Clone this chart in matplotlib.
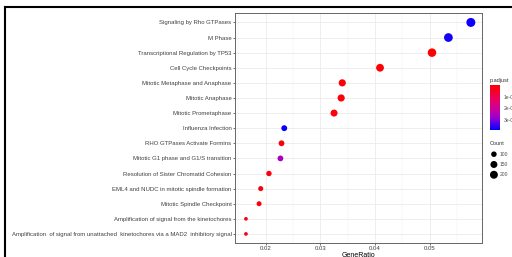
import numpy as np
import matplotlib
matplotlib.use("Agg")
import matplotlib.pyplot as plt
from matplotlib.colors import LinearSegmentedColormap, Normalize
from matplotlib.lines import Line2D

plt.rcParams['font.family'] = ['Liberation Sans', 'DejaVu Sans']

# pathway terms, top to bottom
terms = [
    "Signaling by Rho GTPases",
    "M Phase",
    "Transcriptional Regulation by TP53",
    "Cell Cycle Checkpoints",
    "Mitotic Metaphase and Anaphase",
    "Mitotic Anaphase",
    "Mitotic Prometaphase",
    "Influenza Infection",
    "RHO GTPases Activate Formins",
    "Mitotic G1 phase and G1/S transition",
    "Resolution of Sister Chromatid Cohesion",
    "EML4 and NUDC in mitotic spindle formation",
    "Mitotic Spindle Checkpoint",
    "Amplification of signal from the kinetochores",
    "Amplification  of signal from unattached  kinetochores via a MAD2  inhibitory signal",
]
gene_ratio = [0.0575, 0.0534, 0.0504, 0.0409, 0.0340, 0.0338, 0.0325,
              0.0234, 0.0229, 0.0227, 0.0206, 0.0191, 0.0188, 0.0164, 0.0164]
counts = [270, 251, 237, 192, 160, 159, 153, 110, 108, 107, 97, 90, 88, 77, 77]
p_adjust = [3.75e-5, 3.7e-5, 1e-8, 5e-7, 1e-6, 1.2e-6, 1.5e-6,
            3.8e-5, 1e-6, 2.6e-5, 1.5e-6, 2e-6, 1.5e-6, 3e-6, 3e-6]

size_legend = [100, 150, 200]
cbar_ticks = [1e-5, 2e-5, 3e-5]
cbar_labels = ["1e-05", "2e-05", "3e-05"]

cmap = LinearSegmentedColormap.from_list(
    "rb", [(0, "#FF0000"), (0.35, "#E8006A"), (0.55, "#C8009E"),
           (0.75, "#9300D8"), (1, "#0000FF")])
norm = Normalize(vmin=0, vmax=3.85e-5)

cmin, cmax = min(counts), max(counts)


def marker_area(c):
    # ggplot-like area scale: diameter 3.7px .. 9px
    t = (np.asarray(c, dtype=float) - cmin) / (cmax - cmin)
    d_px = 3.7 + np.sqrt(np.clip(t, 0, 1)) * 5.3
    return (d_px * 72 / 100) ** 2


fig = plt.figure(figsize=(5.12, 2.57), dpi=100)
ax = fig.add_axes([0.459, 0.0545, 0.482, 0.8935])

ypos = np.arange(len(terms))[::-1] + 1
ax.scatter(gene_ratio, ypos, s=marker_area(counts), c=p_adjust, cmap=cmap,
           norm=norm, linewidths=0, zorder=3)

ax.set_ylim(0.4, len(terms) + 0.6)
ax.set_xlim(0.0144, 0.0595)
ax.set_yticks(ypos)
ax.set_yticklabels(terms)
ax.set_xticks([0.02, 0.03, 0.04, 0.05])
ax.set_xticklabels(["0.02", "0.03", "0.04", "0.05"])
ax.set_xticks([0.015, 0.025, 0.035, 0.045, 0.055], minor=True)
ax.tick_params(axis='both', which='major', labelsize=4.3, colors='#333333',
               length=1.5, width=0.5, pad=1, labelcolor='#404040')
ax.tick_params(axis='x', which='minor', length=0)
ax.grid(True, which='major', color='#EBEBEB', lw=0.6, zorder=0)
ax.grid(True, which='minor', axis='x', color='#F2F2F2', lw=0.35, zorder=0)
for sp in ax.spines.values():
    sp.set_color('#666666')
    sp.set_linewidth(0.7)
ax.set_xlabel("GeneRatio", fontsize=5, labelpad=0.5)

# colour bar legend
fig.text(0.957, 0.686, "p.adjust", fontsize=4, color='#333333', va='center')
cax = fig.add_axes([0.958, 0.494, 0.018, 0.175])
grad = np.linspace(0, 3.85e-5, 100).reshape(-1, 1)
cax.imshow(grad, aspect='auto', cmap=cmap, norm=norm,
           extent=[0, 1, 3.85e-5, 0])
cax.set_ylim(3.85e-5, 0)
cax.set_xticks([])
cax.yaxis.tick_right()
cax.set_yticks(cbar_ticks)
cax.set_yticklabels(cbar_labels)
cax.tick_params(axis='y', labelsize=3.6, length=1.5, width=0.4,
                colors='white', labelcolor='#4D4D4D', pad=1.5)
for sp in cax.spines.values():
    sp.set_visible(False)

# count legend
fig.text(0.957, 0.44, "Count", fontsize=4, color='#333333', va='center')
lax = fig.add_axes([0.958, 0.30, 0.04, 0.12])
lax.scatter([0.5] * len(size_legend), [2, 1, 0], s=marker_area(size_legend),
            color='black', linewidths=0)
for yy, lab in zip([2, 1, 0], size_legend):
    lax.text(1.3, yy, str(lab), fontsize=3.6, color='#4D4D4D', va='center')
lax.set_xlim(0, 3)
lax.set_ylim(-0.5, 2.5)
lax.axis('off')

# outer frame of the screenshot
fig.add_artist(Line2D([0.0098, 1.0], [0.973, 0.973], color='black', lw=1.5))
fig.add_artist(Line2D([0.0098, 0.0098], [0.0, 0.973], color='black', lw=1.5))

fig.savefig("out.png", dpi=100)
